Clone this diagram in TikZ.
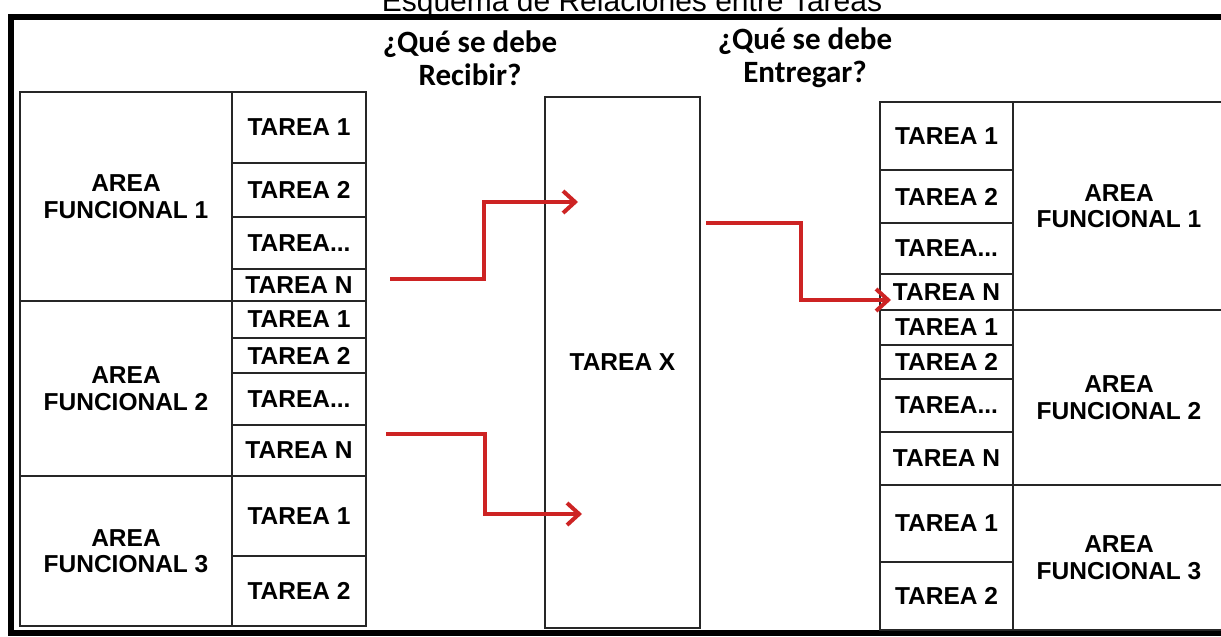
\documentclass[tikz,border=0pt]{standalone}
\usepackage{fontspec}
\setmainfont{Liberation Sans}
\newfontfamily\qfont{Carlito}
\usepackage{xcolor}
\usepackage{tikz}
\usetikzlibrary{arrows.meta, positioning}
\definecolor{flowred}{RGB}{205,35,35}

\begin{document}
\begin{tikzpicture}[
    x=1pt, y=-1pt,
    cell/.style={rectangle, draw=black!85, line width=1.5pt, inner sep=0pt, outer sep=0pt, align=center, font=\fontsize{24.5}{26.5}\selectfont\bfseries},
    area/.style={cell, minimum width=212pt},
    task/.style={cell, minimum width=134pt},
    question/.style={align=center, font=\qfont\fontsize{31}{33}\selectfont\bfseries},
    arrow/.style={-{Straight Barb[length=12pt, width=22pt]}, line width=4pt, draw=flowred}
]
    \useasboundingbox (0,0) rectangle (1221,637);
    \draw[line width=6pt] (11,17) rectangle (1240,633);
    \node[anchor=base, font=\fontsize{30}{32}\selectfont] (title) at (632,12) {Esquema de Relaciones entre Tareas};

    \node[question] (recibir) at (470,58) {¿Qué se debe\\Recibir?};
    \node[question] (entregar) at (805,58) {¿Qué se debe\\Entregar?};

    % left side
    \node[area, minimum height=209pt, anchor=north west] (la1) at (20,92) {AREA\\FUNCIONAL 1};
    \node[area, minimum height=175pt, below=0pt of la1] (la2) {AREA\\FUNCIONAL 2};
    \node[area, minimum height=150pt, below=0pt of la2] (la3) {AREA\\FUNCIONAL 3};
    \node[task, minimum height=71pt, anchor=north west] (l11) at (la1.north east) {TAREA 1};
    \node[task, minimum height=54pt, below=0pt of l11] (l12) {TAREA 2};
    \node[task, minimum height=52pt, below=0pt of l12] (l13) {TAREA...};
    \node[task, minimum height=32pt, below=0pt of l13] (l14) {TAREA N};
    \node[task, minimum height=37pt, below=0pt of l14] (l21) {TAREA 1};
    \node[task, minimum height=35pt, below=0pt of l21] (l22) {TAREA 2};
    \node[task, minimum height=52pt, below=0pt of l22] (l23) {TAREA...};
    \node[task, minimum height=51pt, below=0pt of l23] (l24) {TAREA N};
    \node[task, minimum height=80pt, below=0pt of l24] (l31) {TAREA 1};
    \node[task, minimum height=70pt, below=0pt of l31] (l32) {TAREA 2};

    % middle
    \node[cell, minimum width=155pt, minimum height=531pt, anchor=north west] (tx) at (545,97) {TAREA X};

    % right side
    \node[task, minimum width=133pt, minimum height=68pt, anchor=north west] (r11) at (880,102) {TAREA 1};
    \node[task, minimum width=133pt, minimum height=53pt, below=0pt of r11] (r12) {TAREA 2};
    \node[task, minimum width=133pt, minimum height=51pt, below=0pt of r12] (r13) {TAREA...};
    \node[task, minimum width=133pt, minimum height=36pt, below=0pt of r13] (r14) {TAREA N};
    \node[task, minimum width=133pt, minimum height=35pt, below=0pt of r14] (r21) {TAREA 1};
    \node[task, minimum width=133pt, minimum height=34pt, below=0pt of r21] (r22) {TAREA 2};
    \node[task, minimum width=133pt, minimum height=53pt, below=0pt of r22] (r23) {TAREA...};
    \node[task, minimum width=133pt, minimum height=53pt, below=0pt of r23] (r24) {TAREA N};
    \node[task, minimum width=133pt, minimum height=77pt, below=0pt of r24] (r31) {TAREA 1};
    \node[task, minimum width=133pt, minimum height=68pt, below=0pt of r31] (r32) {TAREA 2};
    \node[area, minimum height=208pt, anchor=north west] (ra1) at (r11.north east) {AREA\\FUNCIONAL 1};
    \node[area, minimum height=175pt, below=0pt of ra1] (ra2) {AREA\\FUNCIONAL 2};
    \node[area, minimum height=145pt, below=0pt of ra2] (ra3) {AREA\\FUNCIONAL 3};

    % arrows
    \coordinate (in1) at (390,279);
    \coordinate (in1end) at (578,202);
    \coordinate (in2) at (386,434);
    \coordinate (in2end) at (582,514);
    \coordinate (out1) at (706,223);
    \coordinate (out1end) at (891,300);
    \draw[arrow] (in1) -- ++(94,0) |- (in1end);
    \draw[arrow] (in2) -- ++(99,0) |- (in2end);
    \draw[arrow] (out1) -- ++(95,0) |- (out1end);
\end{tikzpicture}
\end{document}
